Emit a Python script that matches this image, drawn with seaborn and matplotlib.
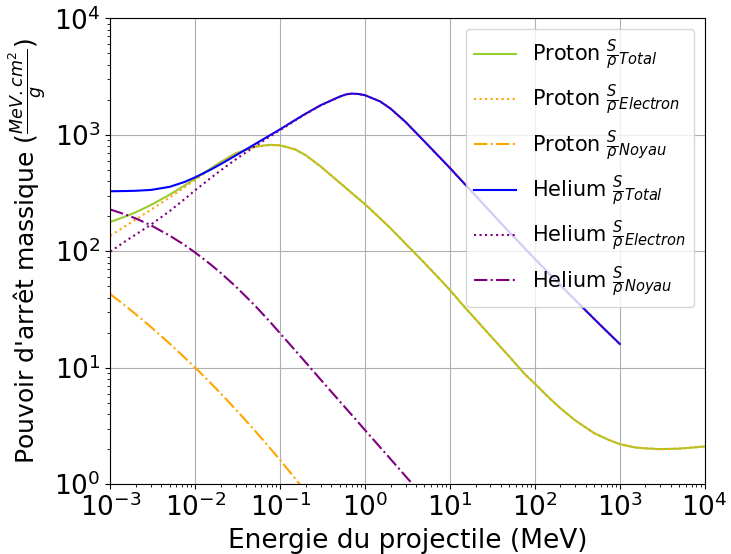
import matplotlib
matplotlib.use("Agg")
import matplotlib.pyplot as plt
import seaborn as sns

# energies (MeV) and mass stopping powers (MeV.cm2/g)
e_proton = [0.001, 0.0015, 0.002, 0.003, 0.005, 0.0075, 0.01, 0.015, 0.02, 0.03, 0.05, 0.075,
            0.1, 0.15, 0.2, 0.3, 0.5, 0.75, 1, 1.5, 2, 3, 5, 7.5, 10, 15, 20, 30, 50, 75,
            100, 150, 200, 300, 500, 750, 1000, 1500, 2000, 3000, 5000, 7500, 10000]
proton_total = [178.6, 198.6, 216.4, 249.4, 305.9, 367.1, 420.3, 510.5, 584.5, 693, 790, 819,
                812, 749, 668, 534, 389, 302, 253, 192, 157, 116, 79.4, 58.1, 46.4, 32.9, 26.1, 18.8, 12.45, 8.9,
                7.29, 5.44, 4.49, 3.52, 2.74, 2.39, 2.21, 2.07, 2.03, 2.0, 2.02, 2.07, 2.11]
proton_electron = [135.8, 164.6, 187.7, 227, 289.8, 354.9, 410.3, 503, 578.5, 688.6, 787, 817,
                   810.4, 748, 667, 533.5, 388.8, 301.9, 253, 192, 157, 116, 79.4, 58.1, 46.4, 32.9, 26.1, 18.8, 12.45, 8.9,
                   7.29, 5.44, 4.49, 3.52, 2.74, 2.39, 2.21, 2.07, 2.03, 2.0, 2.02, 2.07, 2.11]

e_proton_nuc = [0.001, 0.0015, 0.002, 0.003, 0.005, 0.0075, 0.01, 0.015, 0.02, 0.03, 0.05, 0.075,
                0.1, 0.15, 0.2, 0.3]
proton_noyau = [42.8, 34.0, 28.7, 22.4, 16.1, 12.2, 10.0, 7.45, 6.0, 4.38, 2.90, 2.06,
                1.61, 1.12, 0.86, 0.66]

e_helium = [0.001, 0.0015, 0.002, 0.003, 0.005, 0.0075, 0.01, 0.015, 0.02, 0.03, 0.05, 0.075,
            0.1, 0.15, 0.2, 0.3, 0.5, 0.6, 0.7, 0.85, 1, 1.5, 2, 3, 5, 7.5, 10, 15, 20, 30, 50, 75,
            100, 150, 200, 300, 500, 750, 1000]
helium_total = [327.3, 328.7, 330.6, 336, 357.3, 393.8, 431.6, 499.6, 560.6, 664.5, 827.9, 985.6,
                1115, 1338, 1519, 1794, 2123, 2223, 2257, 2235, 2184, 1935, 1675, 1287, 877, 645, 518, 376, 300, 217.6, 146, 107,
                85.9, 63.4, 51.2, 38.0, 26.2, 19.6, 16.0]
helium_electron = [99.3, 121.7, 139.6, 169, 221.3, 280.8, 334.3, 422.1, 495.6, 614.7, 793.5, 960.6,
                   1095, 1324, 1508, 1786, 2118, 2219, 2253, 2232, 2181, 1933, 1673, 1286, 876, 645, 518, 376, 300, 217.6, 146, 107,
                   85.9, 63.4, 51.2, 38.0, 26.2, 19.6, 16.0]

e_helium_nuc = [0.001, 0.0015, 0.002, 0.003, 0.005, 0.0075, 0.01, 0.015, 0.02, 0.03, 0.05, 0.075,
                0.1, 0.15, 0.2, 0.3, 0.5, 0.75, 1, 1.5, 2, 3, 5]
helium_noyau = [228, 207, 191, 167, 136, 113, 97.3, 77.5, 65.0, 49.8, 34.4, 25.0,
                19.7, 14.1, 11.1, 7.9, 5.17, 3.7, 2.91, 2.08, 1.64, 1.17, 0.77]

fig, ax = plt.subplots(figsize=(7.31, 5.54), dpi=100)
fig.subplots_adjust(left=0.151, right=0.964, bottom=0.126, top=0.967)

sns.lineplot(x=e_proton, y=proton_total, ax=ax, color="yellowgreen", linestyle="-",
             label=r"Proton $\frac{S}{\rho}_{Total}$")
sns.lineplot(x=e_proton, y=proton_electron, ax=ax, color="orange", linestyle=":",
             label=r"Proton $\frac{S}{\rho}_{Electron}$")
sns.lineplot(x=e_proton_nuc, y=proton_noyau, ax=ax, color="orange", linestyle="-.",
             label=r"Proton $\frac{S}{\rho}_{Noyau}$")
sns.lineplot(x=e_helium, y=helium_total, ax=ax, color="blue", linestyle="-",
             label=r"Helium $\frac{S}{\rho}_{Total}$")
sns.lineplot(x=e_helium, y=helium_electron, ax=ax, color="purple", linestyle=":",
             label=r"Helium $\frac{S}{\rho}_{Electron}$")
sns.lineplot(x=e_helium_nuc, y=helium_noyau, ax=ax, color="purple", linestyle="-.",
             label=r"Helium $\frac{S}{\rho}_{Noyau}$")

ax.set_xscale("log")
ax.set_yscale("log")
ax.set_xlim(1e-3, 1e4)
ax.set_ylim(1, 1e4)
ax.grid(True, which="major")
ax.tick_params(labelsize=19)
ax.set_xlabel("Energie du projectile (MeV)", fontsize=19)
ax.set_ylabel(r"Pouvoir d'arrêt massique ($\frac{MeV.cm^2}{g}$)", fontsize=18)
ax.legend(loc="upper right", fontsize=15)

fig.savefig("out.png", dpi=100)
